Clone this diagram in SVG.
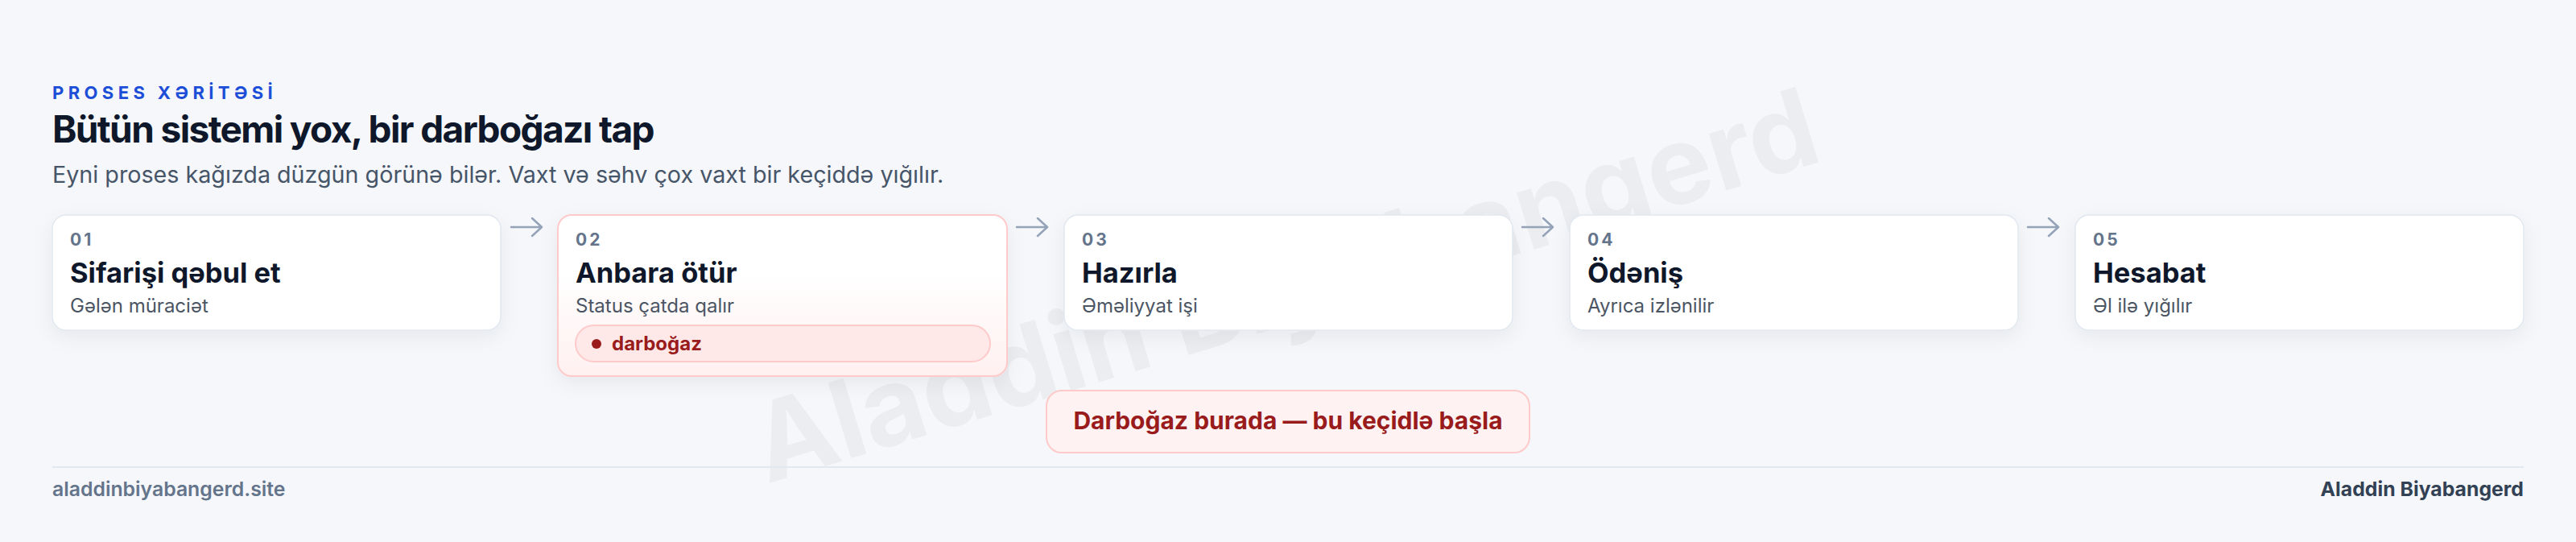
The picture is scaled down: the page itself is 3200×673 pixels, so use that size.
<svg xmlns="http://www.w3.org/2000/svg" width="3200" height="673" viewBox="0 0 3200 673">
<defs>
<style>
.bg{fill:#f5f7fa}
.card{fill:#ffffff;stroke:#e2e8f0;stroke-width:1.5}
.hot{fill:url(#hotgrad);stroke:#fecaca;stroke-width:2}
.num{font-family:Inter,"Noto Sans",sans-serif;font-size:21px;font-weight:700;fill:#64748b;letter-spacing:3px}
.ttl{font-family:Inter,"Noto Sans",sans-serif;font-size:34.5px;font-weight:700;fill:#0f172a}
.sub{font-family:Inter,"Noto Sans",sans-serif;font-size:24px;font-weight:400;fill:#4b5563}
.arrow{fill:none;stroke:#94a3b8;stroke-width:2.5;stroke-linecap:round;stroke-linejoin:round}
.badge{fill:#fee2e2;fill-opacity:0.7;stroke:#fecaca;stroke-width:2}
.badgetxt{font-family:Inter,"Noto Sans",sans-serif;font-size:24px;font-weight:700;fill:#991b1b}
</style>
<linearGradient id="hotgrad" x1="0" y1="0" x2="0" y2="1">
<stop offset="0" stop-color="#ffffff"/>
<stop offset="0.35" stop-color="#ffffff"/>
<stop offset="1" stop-color="#fff0f0"/>
</linearGradient>
<filter id="sh" x="-10%" y="-20%" width="120%" height="160%">
<feDropShadow dx="0" dy="8" stdDeviation="12" flood-color="#0f172a" flood-opacity="0.06"/>
</filter>
</defs>
<rect class="bg" x="0" y="0" width="3200" height="673"/>
<text transform="translate(1610,400) rotate(-17)" x="0" y="0" text-anchor="middle" font-family="Inter,'Noto Sans',sans-serif" font-size="135" font-weight="700" fill="#0f172a" fill-opacity="0.045">Aladdin Biyabangerd</text>
<g id="header">
<text x="65" y="123" font-family="Inter,'Noto Sans',sans-serif" font-size="22" font-weight="700" fill="#1d4ed8" letter-spacing="5.4">PROSES XƏRİTƏSİ</text>
<text x="65" y="177" font-family="Inter,'Noto Sans',sans-serif" font-size="46" font-weight="700" fill="#0f172a" letter-spacing="-1.6">Bütün sistemi yox, bir darboğazı tap</text>
<text x="65" y="227" font-family="Inter,'Noto Sans',sans-serif" font-size="28.7" font-weight="400" fill="#475569">Eyni proses kağızda düzgün görünə bilər. Vaxt və səhv çox vaxt bir keçiddə yığılır.</text>
</g>
<g id="connectors">
<path class="arrow" d="M635,282 H672 M661,271 L673,282 L661,293"/>
<path class="arrow" d="M1263,282 H1300 M1289,271 L1301,282 L1289,293"/>
<path class="arrow" d="M1891,282 H1928 M1917,271 L1929,282 L1917,293"/>
<path class="arrow" d="M2519,282 H2556 M2545,271 L2557,282 L2545,293"/>
</g>
<g id="step1">
<rect class="card" filter="url(#sh)" x="65" y="267" width="557" height="143" rx="17"/>
<text class="num" x="87" y="305">01</text>
<text class="ttl" x="87" y="351">Sifarişi qəbul et</text>
<text class="sub" x="87" y="388">Gələn müraciət</text>
</g>
<g id="step2">
<rect class="hot" filter="url(#sh)" x="693" y="267" width="558" height="200" rx="17"/>
<text class="num" x="715" y="305">02</text>
<text class="ttl" x="715" y="351">Anbara ötür</text>
<text class="sub" x="715" y="388">Status çatda qalır</text>
<rect class="badge" x="715" y="404" width="515" height="45" rx="22.5"/>
<circle cx="741" cy="427" r="6" fill="#991b1b"/>
<text class="badgetxt" x="760" y="435">darboğaz</text>
</g>
<g id="step3">
<rect class="card" filter="url(#sh)" x="1322" y="267" width="557" height="143" rx="17"/>
<text class="num" x="1344" y="305">03</text>
<text class="ttl" x="1344" y="351">Hazırla</text>
<text class="sub" x="1344" y="388">Əməliyyat işi</text>
</g>
<g id="step4">
<rect class="card" filter="url(#sh)" x="1950" y="267" width="557" height="143" rx="17"/>
<text class="num" x="1972" y="305">04</text>
<text class="ttl" x="1972" y="351">Ödəniş</text>
<text class="sub" x="1972" y="388">Ayrıca izlənilir</text>
</g>
<g id="step5">
<rect class="card" filter="url(#sh)" x="2578" y="267" width="557" height="143" rx="17"/>
<text class="num" x="2600" y="305">05</text>
<text class="ttl" x="2600" y="351">Hesabat</text>
<text class="sub" x="2600" y="388">Əl ilə yığılır</text>
</g>
<g id="callout">
<rect x="1300" y="485" width="600" height="77" rx="19" fill="#fef2f2" stroke="#fecaca" stroke-width="2"/>
<text x="1600" y="533" text-anchor="middle" font-family="Inter,'Noto Sans',sans-serif" font-size="30" font-weight="700" fill="#991b1b">Darboğaz burada — bu keçidlə başla</text>
</g>
<g id="footer">
<line x1="65" y1="580" x2="3135" y2="580" stroke="#e2e8f0" stroke-width="2"/>
<text x="65" y="616" font-family="Inter,'Noto Sans',sans-serif" font-size="24.8" font-weight="600" fill="#64748b">aladdinbiyabangerd.site</text>
<text x="3135" y="616" text-anchor="end" font-family="Inter,'Noto Sans',sans-serif" font-size="24.8" font-weight="700" fill="#334155">Aladdin Biyabangerd</text>
</g>
</svg>
